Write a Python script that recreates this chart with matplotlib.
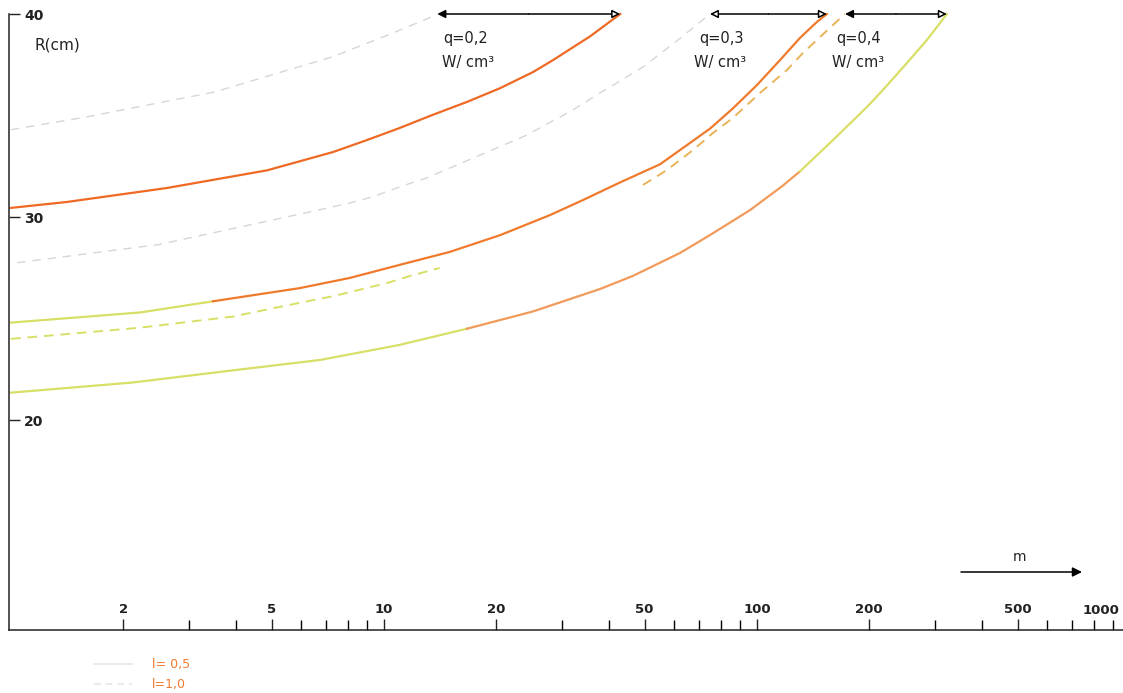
import matplotlib
matplotlib.use("Agg")
import matplotlib.pyplot as plt
from matplotlib.lines import Line2D
import numpy as np

# ---------------- data ----------------
m_q02_l05 = [1.0, 1.41, 2.62, 4.86, 7.3, 9.0, 11.0, 13.5, 16.7, 20.5, 25.1, 28.4, 35.7, 43.0]
R_q02_l05 = [30.45, 30.74, 31.43, 32.3, 33.2, 33.79, 34.38, 35.03, 35.67, 36.35, 37.14, 37.73, 38.9, 40.0]

m_q02_l10 = [1.0, 1.56, 3.5, 7.3, 10.2, 13.0, 13.9]
R_q02_l10 = [34.3, 34.9, 36.15, 37.9, 38.95, 39.75, 40.0]

m_q03_l05 = [1.0, 2.22, 3.48, 5.95, 8.1, 11.0, 15.0, 20.5, 27.9, 34.2, 42.9, 55.0, 63.3,
             74.8, 86.2, 100, 115.3, 130.4, 144.8, 154]
R_q03_l05 = [24.8, 25.3, 25.85, 26.5, 27.0, 27.64, 28.28, 29.11, 30.1, 30.84, 31.7, 32.6, 33.4,
             34.35, 35.35, 36.5, 37.73, 38.82, 39.61, 40.0]

m_q03_l10 = [1.04, 2.5, 6.7, 8.1, 9.35, 11.2, 13.0, 23.9, 32.1, 37.9, 42.1, 49.5, 62.2, 74.8]
R_q03_l10 = [27.75, 28.65, 30.35, 30.69, 31.0, 31.53, 31.92, 34.0, 35.27, 36.11, 36.6, 37.39, 38.8, 40.0]

m_q04_l05 = [1.0, 2.12, 3.94, 6.74, 11.0, 16.7, 25.1, 37.9, 46.5, 62.2, 74.8, 95.8, 117.4,
             130.4, 159.9, 197.2, 217.7, 252.5, 285.6, 323]
R_q04_l05 = [21.35, 21.85, 22.45, 22.96, 23.7, 24.5, 25.35, 26.45, 27.1, 28.23, 29.11, 30.34, 31.55,
             32.25, 33.79, 35.42, 36.26, 37.59, 38.72, 40.0]

m_q04_l10 = [1.0, 1.25, 2.22, 3.94, 6.07, 7.3, 10.2, 11.7, 14.1,
             49.5, 57.4, 67.4, 76.2, 86.2, 101.9, 120.3, 132.8, 144.8, 159.9, 172.2]
R_q04_l10 = [24.0, 24.15, 24.55, 25.1, 25.81, 26.1, 26.75, 27.09, 27.49,
             31.58, 32.32, 33.3, 34.14, 34.88, 36.11, 37.24, 38.08, 38.72, 39.46, 40.0]

major_ticks = [2, 5, 10, 20, 50, 100, 200, 500]
major_labels = ["2", "5", "10", "20", "50", "100", "200", "500"]
minor_ticks = [3, 4, 6, 7, 8, 9, 30, 40, 60, 70, 80, 90, 300, 400, 600, 700, 800, 900]
y_ticks = [20, 30, 40]
q_labels = ["q=0,2", "q=0,3", "q=0,4"]
unit_label = "W/ cm³"
legend_labels = ["l= 0,5", "l=1,0"]

# ---------------- styling ----------------
ORANGE = "#EE6A24"
ORANGE2 = "#F07A2C"
ORANGE_LIGHT = "#F29A5A"
YGREEN = "#D8DF66"
FAINT = "#D6D6D6"
TXT_ORANGE = "#F07A30"

W, H = 1123, 693
fig = plt.figure(figsize=(W / 100, H / 100), dpi=100)
fig.patch.set_facecolor("white")

ax_left, ax_right, ax_top, ax_bottom = 9, 1123, 14, 630
ax = fig.add_axes([ax_left / W, (H - ax_bottom) / H,
                   (ax_right - ax_left) / W, (ax_bottom - ax_top) / H])
ax.set_xscale("log")
ax.set_xlim(0.988, 958)
ax.set_ylim(9.66, 40)

for s in ["top", "right"]:
    ax.spines[s].set_visible(False)
for s in ["left", "bottom"]:
    ax.spines[s].set_linewidth(1.1)
    ax.spines[s].set_color("#222222")

# ---------------- curves ----------------
lw = 1.6
# q = 0.2
ax.plot(m_q02_l05, R_q02_l05, color=ORANGE, lw=lw, clip_on=False)
ax.plot(m_q02_l10, R_q02_l10, color=FAINT, lw=1.0, ls=(0, (6, 5)), clip_on=False)
# q = 0.3
ax.plot(m_q03_l05[:3], R_q03_l05[:3], color=YGREEN, lw=lw, clip_on=False)
ax.plot(m_q03_l05[2:], R_q03_l05[2:], color=ORANGE2, lw=lw, clip_on=False)
ax.plot(m_q03_l10, R_q03_l10, color=FAINT, lw=1.0, ls=(0, (6, 5)), clip_on=False)
# q = 0.4
ax.plot(m_q04_l05[:6], R_q04_l05[:6], color=YGREEN, lw=lw, clip_on=False)
ax.plot(m_q04_l05[5:14], R_q04_l05[5:14], color=ORANGE_LIGHT, lw=lw, clip_on=False)
ax.plot(m_q04_l05[13:], R_q04_l05[13:], color=YGREEN, lw=lw, clip_on=False)
ax.plot(m_q04_l10[:9], R_q04_l10[:9], color=YGREEN, lw=1.4, ls=(0, (5, 3.5)), clip_on=False)
ax.plot(m_q04_l10[9:], R_q04_l10[9:], color="#E9B35A", lw=1.4, ls=(0, (5, 3.5)), clip_on=False)

# ---------------- range arrows at the top ----------------
pairs = [(m_q02_l10[-1], m_q02_l05[-1], "black"),
         (m_q03_l10[-1], m_q03_l05[-1], "white"),
         (m_q04_l10[-1], m_q04_l05[-1], "black")]
for xl, xr, lfc in pairs:
    xm = np.sqrt(xl * xr)
    ax.annotate("", xy=(xl, 40), xytext=(xm, 40),
                arrowprops=dict(arrowstyle="-|>", lw=1.1, color="black", fc=lfc,
                                shrinkA=0, shrinkB=0, mutation_scale=12),
                annotation_clip=False)
    ax.annotate("", xy=(xr, 40), xytext=(xm, 40),
                arrowprops=dict(arrowstyle="-|>", lw=1.1, color="black", fc="white",
                                shrinkA=0, shrinkB=0, mutation_scale=12),
                annotation_clip=False)

def px2ax(px, py):
    return (px - ax_left) / (ax_right - ax_left), (ax_bottom - py) / (ax_bottom - ax_top)

q_pos = [(443, 38, 442, 63), (699, 38, 694, 63), (836, 38, 832, 63)]
for lab, (qx, qy, ux, uy) in zip(q_labels, q_pos):
    ax.text(*px2ax(qx, qy), lab, transform=ax.transAxes, ha="left", va="center",
            fontsize=10.5, color="#222222")
    ax.text(*px2ax(ux, uy), unit_label, transform=ax.transAxes, ha="left", va="center",
            fontsize=10.5, color="#222222")

# ---------------- axes ticks ----------------
ax.set_xticks(major_ticks)
ax.set_xticklabels(major_labels)
ax.set_xticks(minor_ticks, minor=True)
ax.xaxis.set_minor_formatter(plt.NullFormatter())
ax.tick_params(axis="x", which="major", direction="in", length=8, width=1.0,
               pad=-10, labelsize=9.5, colors="#222222")
ax.tick_params(axis="x", which="minor", direction="in", length=7, width=1.0)
for t in ax.get_xticklabels():
    t.set_va("bottom")
    t.set_fontweight("bold")

ax.set_yticks(y_ticks)
ax.set_yticklabels([str(v) for v in y_ticks])
ax.yaxis.set_minor_locator(plt.NullLocator())
ax.tick_params(axis="y", which="major", direction="in", length=8, width=1.0,
               pad=-11, labelsize=10, colors="#222222")
for t in ax.get_yticklabels():
    t.set_ha("left")
    t.set_fontweight("bold")

ax.text(*px2ax(1101, 617), "1000", transform=ax.transAxes, ha="center", va="bottom",
        fontsize=9.5, fontweight="bold", color="#222222")

ax.text(*px2ax(35, 45), "R(cm)", transform=ax.transAxes, ha="left", va="center",
        fontsize=11, color="#222222")

# m arrow
ax.annotate("", xy=px2ax(1082, 572), xytext=px2ax(961, 572),
            xycoords="axes fraction", textcoords="axes fraction",
            arrowprops=dict(arrowstyle="-|>", lw=1.1, color="black", fc="black",
                            shrinkA=0, shrinkB=0, mutation_scale=14))
ax.text(*px2ax(1019, 557), "m", transform=ax.transAxes, ha="center", va="center",
        fontsize=10, color="#222222")

# ---------------- legend ----------------
handles = [Line2D([], [], color="#E6E6E6", lw=1.2),
           Line2D([], [], color="#E6E6E6", lw=1.2, ls=(0, (4, 3)))]
leg = fig.legend(handles, legend_labels, loc="upper left",
                 bbox_to_anchor=(88 / W, (H - 652) / H), frameon=False,
                 fontsize=9, labelcolor=TXT_ORANGE, handlelength=3.0,
                 handletextpad=1.6, labelspacing=0.55, borderpad=0)

fig.savefig("out.png", dpi=100, facecolor="white")
